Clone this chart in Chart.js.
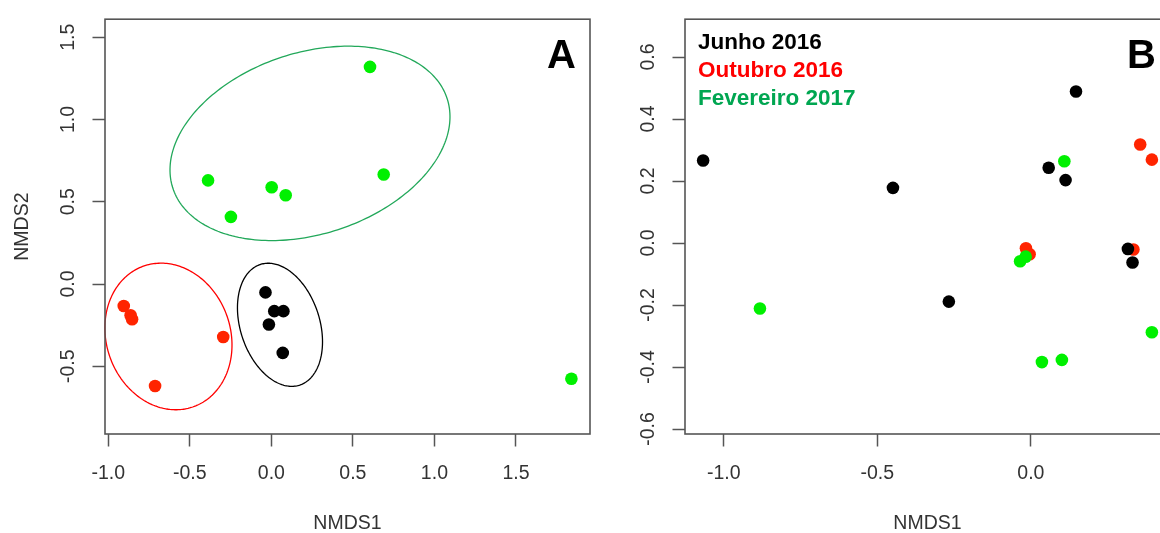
<!DOCTYPE html>
<html>
<head>
<meta charset="utf-8">
<script src="https://cdn.jsdelivr.net/npm/chart.js@4.4.1/dist/chart.umd.min.js"></script>
<style>
html,body{margin:0;padding:0;background:#fff;overflow:hidden;}
#wrap{position:relative;width:1160px;height:533px;overflow:hidden;background:#fff;}
#cA{position:absolute;left:0;top:0;}
#cB{position:absolute;left:600px;top:0;}
</style>
</head>
<body>
<div id="wrap">
<canvas id="cA" width="600" height="533"></canvas>
<canvas id="cB" width="600" height="533"></canvas>
</div>
<script>
// ---------------- data ----------------
const seriesNames = ['Junho 2016', 'Outubro 2016', 'Fevereiro 2017'];
const panelLabels = ['A', 'B'];

// Panel A (NMDS1, NMDS2)
const junhoA_x     = [-0.036, 0.018, 0.074, -0.015, 0.070];
const junhoA_y     = [-0.051, -0.165, -0.165, -0.246, -0.419];
const outubroA_x   = [-0.905, -0.863, -0.854, -0.295, -0.713];
const outubroA_y   = [-0.134, -0.190, -0.214, -0.322, -0.620];
const fevereiroA_x = [0.605, 0.689, -0.388, 0.002, 0.088, -0.248, 1.840];
const fevereiroA_y = [1.320, 0.666, 0.630, 0.588, 0.540, 0.408, -0.576];

// Panel A group ellipses: [centre x, centre y, semi-major, semi-minor, angle (deg)]
const ellipseJunhoA     = [0.053, -0.248, 0.386, 0.243, -71.6];
const ellipseOutubroA   = [-0.631, -0.319, 0.454, 0.380, -69.6];
const ellipseFevereiroA = [0.237, 0.855, 0.884, 0.552, 17.8];

// Panel B (NMDS1, NMDS2)
const junhoB_x     = [-1.067, -0.449, 0.147, 0.058, 0.113, -0.267, 0.316, 0.331];
const junhoB_y     = [0.266, 0.178, 0.489, 0.243, 0.203, -0.189, -0.019, -0.063];
const outubroB_x   = [0.356, 0.394, -0.016, -0.004, 0.334];
const outubroB_y   = [0.318, 0.269, -0.017, -0.036, -0.021];
const fevereiroB_x = [0.109, -0.882, -0.035, -0.017, 0.036, 0.101, 0.394];
const fevereiroB_y = [0.264, -0.211, -0.059, -0.044, -0.384, -0.377, -0.288];

// axis limits and ticks
const xRangeA = [-1.02, 1.954];
const yRangeA = [-0.912, 1.61];
const xRangeB = [-1.126, 0.453];
const yRangeB = [-0.616, 0.722];

const xTicksA = [-1.0, -0.5, 0.0, 0.5, 1.0, 1.5];
const xTickLabelsA = ['-1.0', '-0.5', '0.0', '0.5', '1.0', '1.5'];
const yTicksA = [-0.5, 0.0, 0.5, 1.0, 1.5];
const yTickLabelsA = ['-0.5', '0.0', '0.5', '1.0', '1.5'];
const xTicksB = [-1.0, -0.5, 0.0];
const xTickLabelsB = ['-1.0', '-0.5', '0.0'];
const yTicksB = [-0.6, -0.4, -0.2, 0.0, 0.2, 0.4, 0.6];
const yTickLabelsB = ['-0.6', '-0.4', '-0.2', '0.0', '0.2', '0.4', '0.6'];

const xTitle = 'NMDS1';
const yTitle = 'NMDS2';

// ---------------- styling ----------------
const FONT = "'Liberation Sans', Arial, Helvetica, sans-serif";
const pointColors  = ['#000000', '#ff2400', '#00f000'];
const ellipseColors = ['#000000', '#ff0000', '#22a85a'];
const legendColors = ['#000000', '#ff0000', '#00a651'];
const AXIS_COLOR = '#555';
const TEXT_COLOR = '#333';

function pts(xs, ys) { return xs.map((x, i) => ({x: x, y: ys[i]})); }

function framePlugin() {
  return {
    id: 'frame',
    afterDatasetsDraw(chart) {
      const {ctx, chartArea: a} = chart;
      ctx.save();
      ctx.strokeStyle = AXIS_COLOR;
      ctx.lineWidth = 1.6;
      ctx.strokeRect(a.left, a.top, a.right - a.left, a.bottom - a.top);
      ctx.restore();
    }
  };
}

function ellipsePlugin(list) {
  return {
    id: 'ellipses',
    afterDatasetsDraw(chart) {
      const {ctx} = chart;
      const sx = chart.scales.x, sy = chart.scales.y;
      ctx.save();
      list.forEach(e => {
        const [cx, cy, a, b, deg] = e.params;
        const phi = deg * Math.PI / 180;
        ctx.beginPath();
        const N = 240;
        for (let k = 0; k <= N; k++) {
          const t = k / N * 2 * Math.PI;
          const dx = a * Math.cos(t), dy = b * Math.sin(t);
          const vx = cx + dx * Math.cos(phi) - dy * Math.sin(phi);
          const vy = cy + dx * Math.sin(phi) + dy * Math.cos(phi);
          const px = sx.getPixelForValue(vx), py = sy.getPixelForValue(vy);
          if (k === 0) ctx.moveTo(px, py); else ctx.lineTo(px, py);
        }
        ctx.closePath();
        ctx.strokeStyle = e.color;
        ctx.lineWidth = 1.3;
        ctx.stroke();
      });
      ctx.restore();
    }
  };
}

function textPlugin(letter, showLegend) {
  return {
    id: 'panelText',
    afterDatasetsDraw(chart) {
      const {ctx, chartArea: a} = chart;
      ctx.save();
      ctx.fillStyle = '#000';
      ctx.font = 'bold 40px ' + FONT;
      ctx.textAlign = 'right';
      ctx.textBaseline = 'alphabetic';
      ctx.fillText(letter, a.right - 14, a.top + 49);
      if (showLegend) {
        ctx.font = 'bold 22.5px ' + FONT;
        ctx.textAlign = 'left';
        ctx.textBaseline = 'middle';
        seriesNames.forEach((n, i) => {
          ctx.fillStyle = legendColors[i];
          ctx.fillText(n, a.left + 13, a.top + 24 + i * 27.6);
        });
      }
      ctx.restore();
    }
  };
}

function buildChart(canvas, c) {
  const datasets = [
    {label: seriesNames[2], data: pts(c.fx, c.fy), backgroundColor: pointColors[2], order: 0},
    {label: seriesNames[0], data: pts(c.jx, c.jy), backgroundColor: pointColors[0], order: 1},
    {label: seriesNames[1], data: pts(c.ox, c.oy), backgroundColor: pointColors[1], order: 2}
  ].map(d => Object.assign(d, {pointRadius: 6.3, pointHoverRadius: 6.3, borderWidth: 0, pointBorderWidth: 0, showLine: false}));

  return new Chart(canvas, {
    type: 'scatter',
    data: {datasets},
    options: {
      responsive: false,
      animation: false,
      devicePixelRatio: 1,
      events: [],
      layout: {padding: {left: 0, right: c.padRight, top: 14, bottom: 0}},
      plugins: {legend: {display: false}, tooltip: {enabled: false}},
      scales: {
        x: {
          type: 'linear', position: 'bottom', bounds: 'data',
          min: c.xRange[0], max: c.xRange[1],
          afterBuildTicks: s => { s.ticks = c.xTicks.map(v => ({value: v})); },
          afterFit: s => { s.height = 99; },
          ticks: {
            autoSkip: false, minRotation: 0, maxRotation: 0, padding: 15.5,
            font: {family: FONT, size: 19.5}, color: TEXT_COLOR,
            callback: (v, i) => c.xLabels[i]
          },
          grid: {drawOnChartArea: false, drawTicks: true, tickLength: 12.5, tickWidth: 1.5, tickColor: AXIS_COLOR},
          border: {display: false},
          title: {display: true, text: xTitle, color: TEXT_COLOR, font: {family: FONT, size: 19.5, lineHeight: 1}, padding: {top: 0, bottom: 0}}
        },
        y: {
          type: 'linear', position: 'left', bounds: 'data',
          min: c.yRange[0], max: c.yRange[1],
          afterBuildTicks: s => { s.ticks = c.yTicks.map(v => ({value: v})); },
          afterFit: s => { s.width = c.yAxisWidth; },
          ticks: {
            autoSkip: false, minRotation: 90, maxRotation: 90, padding: 7.5, crossAlign: 'center',
            font: {family: FONT, size: 19.5}, color: TEXT_COLOR,
            callback: (v, i) => c.yLabels[i]
          },
          grid: {drawOnChartArea: false, drawTicks: true, tickLength: 12.5, tickWidth: 1.5, tickColor: AXIS_COLOR},
          border: {display: false},
          title: {display: c.showYTitle, text: yTitle, color: TEXT_COLOR, font: {family: FONT, size: 19.5, lineHeight: 1}, padding: {top: 12.5, bottom: 0}}
        }
      }
    },
    plugins: [ellipsePlugin(c.ellipses), framePlugin(), textPlugin(c.letter, c.legend)]
  });
}

buildChart(document.getElementById('cA'), {
  jx: junhoA_x, jy: junhoA_y, ox: outubroA_x, oy: outubroA_y, fx: fevereiroA_x, fy: fevereiroA_y,
  xRange: xRangeA, yRange: yRangeA, xTicks: xTicksA, xLabels: xTickLabelsA, yTicks: yTicksA, yLabels: yTickLabelsA,
  padRight: 10, yAxisWidth: 105, showYTitle: true, letter: panelLabels[0], legend: false,
  ellipses: [
    {params: ellipseFevereiroA, color: ellipseColors[2]},
    {params: ellipseOutubroA, color: ellipseColors[1]},
    {params: ellipseJunhoA, color: ellipseColors[0]}
  ]
});

buildChart(document.getElementById('cB'), {
  jx: junhoB_x, jy: junhoB_y, ox: outubroB_x, oy: outubroB_y, fx: fevereiroB_x, fy: fevereiroB_y,
  xRange: xRangeB, yRange: yRangeB, xTicks: xTicksB, xLabels: xTickLabelsB, yTicks: yTicksB, yLabels: yTickLabelsB,
  padRight: 30, yAxisWidth: 85, showYTitle: false, letter: panelLabels[1], legend: true,
  ellipses: []
});
</script>
</body>
</html>
